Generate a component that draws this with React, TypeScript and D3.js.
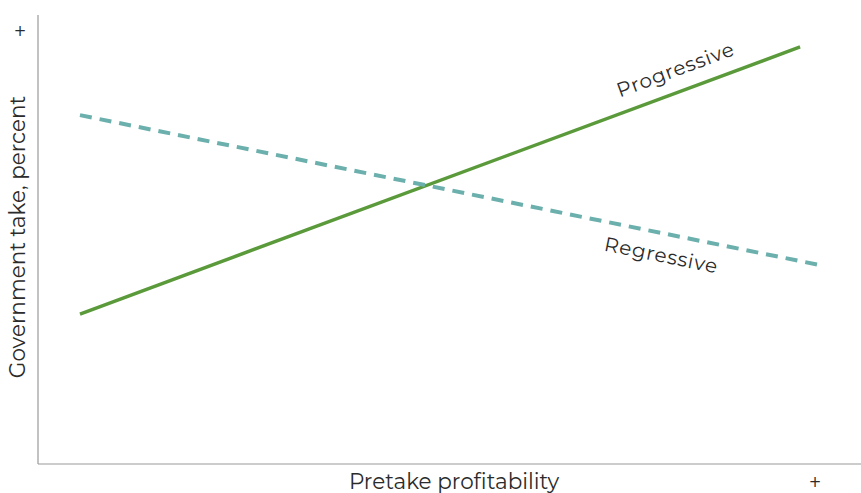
import React from "react";
import * as d3 from "d3";

const W = 861;
const H = 493;

const progressiveX = [5.1, 92.6];
const progressiveY = [33.4, 92.9];
const regressiveX = [5.1, 95.0];
const regressiveY = [77.7, 44.3];
const seriesNames = ["Progressive", "Regressive"];
const axisTitles = ["Pretake profitability", "Government take, percent"];
const tickLabels = ["+", "+"];

export default function App() {
  const x = d3.scaleLinear().domain([0, 100]).range([38, 861]);
  const y = d3.scaleLinear().domain([0, 100]).range([464, 15]);
  const line = d3
    .line<[number, number]>()
    .x((d) => x(d[0]))
    .y((d) => y(d[1]));
  const prog: [number, number][] = progressiveX.map((v, i) => [v, progressiveY[i]]);
  const reg: [number, number][] = regressiveX.map((v, i) => [v, regressiveY[i]]);

  const pAngle =
    (Math.atan2(y(prog[1][1]) - y(prog[0][1]), x(prog[1][0]) - x(prog[0][0])) * 180) / Math.PI;
  const rAngle =
    (Math.atan2(y(reg[1][1]) - y(reg[0][1]), x(reg[1][0]) - x(reg[0][0])) * 180) / Math.PI;

  const font = "Montserrat, 'Open Sans', 'DejaVu Sans', sans-serif";
  const labelColor = "#2b2b2b";

  return (
    <svg
      width={W}
      height={H}
      style={{ position: "absolute", left: 0, top: 0, background: "#fff" }}
      fontFamily={font}
    >
      <line x1={x(0)} x2={x(0)} y1={y(100)} y2={y(0)} stroke="#999" strokeWidth={1.2} />
      <line x1={x(0)} x2={x(100)} y1={y(0)} y2={y(0)} stroke="#999" strokeWidth={1.2} />
      <path d={line(prog) || ""} stroke="#5b9a3b" strokeWidth={3.5} fill="none" />
      <path
        d={line(reg) || ""}
        stroke="#6bb0ad"
        strokeWidth={4}
        strokeDasharray="12 8"
        fill="none"
      />
      <text
        x={0}
        y={0}
        transform={`translate(678,76) rotate(${pAngle})`}
        textAnchor="middle"
        fontSize={20}
        fill={labelColor}
        letterSpacing={0.8}
      >
        {seriesNames[0]}
      </text>
      <text
        x={0}
        y={0}
        transform={`translate(660,262) rotate(${rAngle})`}
        textAnchor="middle"
        fontSize={20}
        fill={labelColor}
        letterSpacing={0.8}
      >
        {seriesNames[1]}
      </text>
      <text x={454} y={489} textAnchor="middle" fontSize={21.5} fill={labelColor}>
        {axisTitles[0]}
      </text>
      <text
        transform={`translate(25,237) rotate(-90)`}
        textAnchor="middle"
        fontSize={21.5}
        fill={labelColor}
      >
        {axisTitles[1]}
      </text>
      <text
        x={815}
        y={487}
        textAnchor="middle"
        fontSize={15}
        fontFamily="'DejaVu Sans', sans-serif"
        fill={labelColor}
      >
        {tickLabels[0]}
      </text>
      <text
        x={20}
        y={36}
        textAnchor="middle"
        fontSize={15}
        fontFamily="'DejaVu Sans', sans-serif"
        fill={labelColor}
      >
        {tickLabels[1]}
      </text>
    </svg>
  );
}
